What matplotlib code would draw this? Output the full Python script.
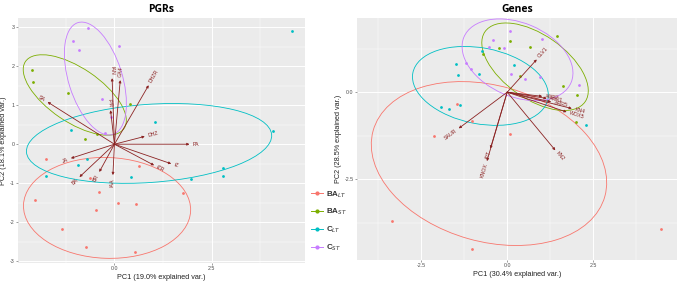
import numpy as np
import matplotlib
matplotlib.use("Agg")
import matplotlib.pyplot as plt
from matplotlib.patches import Ellipse
from matplotlib.lines import Line2D

plt.rcParams['font.family'] = ['Liberation Sans', 'DejaVu Sans']

# groups and colours (ggplot hue palette)
groups = ['BA$_{LT}$', 'BA$_{ST}$', 'C$_{LT}$', 'C$_{ST}$']
colors = ['#F8766D', '#7CAE00', '#00BFC4', '#C77CFF']
arrow_col = '#8B2323'

# ---- PGRs panel: scores per group ----
pgr_x = [
    [-1.76, -2.04, -1.36, -0.73, 0.53, -0.48, -0.40, -0.62, 0.10, 0.56, 0.63, 1.76],
    [-2.13, -2.10, -1.20, 0.41, -0.75, -0.46],
    [1.05, -1.13, -0.70, -0.93, -1.76, 0.43, 4.57, 4.07, 2.79, 2.78, 1.98],
    [-0.67, -1.06, -0.90, 0.13, -0.31, -0.08, -0.23],
]
pgr_y = [
    [-0.39, -1.42, -2.16, -2.63, -2.77, -1.68, -1.22, -0.87, -1.50, -1.54, -0.56, -1.24],
    [1.90, 1.58, 1.30, 1.02, 0.13, 0.25],
    [0.57, 0.36, -0.38, -0.54, -0.82, -0.85, 2.90, 0.33, -0.60, -0.81, -0.88],
    [2.97, 2.64, 2.41, 2.51, 1.15, 0.69, 0.28],
]
# ellipses (same group order): centre x, centre y, semi-major, semi-minor, angle (deg)
pgr_ell = [
    (-0.19, -1.63, 2.15, 1.29, -2),
    (-1.02, 1.26, 1.53, 0.69, -34),
    (0.89, 0.02, 3.16, 1.00, 4),
    (-0.49, 1.68, 1.50, 0.69, 107.5),
]
pgr_vars = ['SA', 'IAN', 'GA4', 'DHZR', 'iPR', 'DHZ', 'PA', 'tZ', 'tZR', 'JA', 'BA', 'BR', 'IAA']
pgr_vx = [-1.72, -0.06, 0.15, 0.88, -0.10, 0.78, 1.93, 1.46, 1.02, -1.12, -0.90, -0.39, -0.04]
pgr_vy = [1.08, 1.69, 1.64, 1.51, 0.87, 0.20, 0.00, -0.50, -0.54, -0.36, -0.84, -0.71, -0.79]

# ---- Genes panel ----
gene_x = [
    [-1.46, -2.12, -1.01, 0.09, -3.35, -1.01, 4.47],
    [0.07, -0.23, 0.67, 0.36, -0.71, 1.46, 1.61, 2.03, 2.00],
    [-1.92, -1.69, -1.37, -1.49, -1.44, -0.82, -0.72, 0.20, 2.30],
    [-0.42, -0.54, -0.08, 0.07, -1.19, -1.05, 0.12, 0.52, 0.94, 2.10, 1.01],
]
gene_y = [
    [-0.33, -1.26, -0.82, -1.21, -3.71, -4.51, -3.92],
    [1.47, 1.28, 1.30, 0.46, 1.11, 1.61, 0.18, -0.07, -0.85],
    [-0.42, -0.49, -0.37, 0.80, 0.49, 0.52, 1.19, 0.78, -0.95],
    [1.51, 1.30, 1.26, 1.75, 0.84, 0.66, 0.52, 0.37, 0.44, 0.22, 1.54],
]
gene_ell = [
    (-0.53, -2.05, 3.50, 2.24, -15.6),
    (0.81, 0.73, 1.77, 0.92, -34.5),
    (-0.78, 0.18, 2.00, 1.09, -10.7),
    (0.30, 0.93, 1.69, 1.06, -22.5),
]
gene_vars = ['SAUR', 'KNOX', 'IPT', 'CLV1', 'KN2', 'KN4', 'WOX5', 'ARR1', 'ARR2', 'ARR5']
gene_vx = [-1.41, -0.59, -0.49, 0.86, 1.40, 1.88, 1.73, 1.15, 1.02, 1.28]
gene_vy = [-1.04, -1.98, -1.62, 0.94, -1.67, -0.47, -0.57, -0.18, -0.12, -0.28]

W, H = 677, 282
fig = plt.figure(figsize=(W / 100, H / 100), dpi=100)


def panel(rect, xs, ys, ells, names, vx, vy, xlim, ylim, xt, yt, xlab, ylab, title):
    ax = fig.add_axes(rect)
    ax.set_facecolor('#EBEBEB')
    for s in ax.spines.values():
        s.set_visible(False)
    ax.set_xlim(*xlim)
    ax.set_ylim(*ylim)
    ax.set_xticks(xt)
    ax.set_yticks(yt)
    ax.set_xticklabels(['%.1f' % v for v in xt])
    ax.set_yticklabels(['%g' % v if title == 'PGRs' else '%.1f' % v for v in yt])
    step_x = xt[1] - xt[0] if len(xt) > 1 else 2.5
    step_y = yt[1] - yt[0] if len(yt) > 1 else 2.5
    mx = np.arange(xt[0] - 10 * step_x + step_x / 2, xlim[1], step_x)
    my = np.arange(yt[0] - 10 * step_y + step_y / 2, ylim[1], step_y)
    ax.set_xticks(mx[mx > xlim[0]], minor=True)
    ax.set_yticks(my[my > ylim[0]], minor=True)
    ax.grid(True, which='major', color='white', lw=0.7)
    ax.grid(True, which='minor', color='white', lw=0.35)
    ax.set_axisbelow(True)
    ax.tick_params(which='major', length=1.5, width=0.4, color='#555555',
                   labelsize=3.8, labelcolor='#4D4D4D', pad=1)
    ax.tick_params(which='minor', length=0)
    ax.set_xlabel(xlab, fontsize=5.2, color='#222222', labelpad=2)
    ax.set_ylabel(ylab, fontsize=5.2, color='#222222', labelpad=2)
    ax.set_title(title, fontsize=7.5, fontweight='bold', family='Open Sans', pad=4)

    for k in range(4):
        cx, cy, a, b, ang = ells[k]
        ax.add_patch(Ellipse((cx, cy), 2 * a, 2 * b, angle=ang, fill=False,
                             ec=colors[k], lw=0.6, zorder=2))
    for k in range(4):
        ax.scatter(xs[k], ys[k], s=4, color=colors[k], lw=0, zorder=3)

    for n, x, y in zip(names, vx, vy):
        ax.annotate('', xy=(x, y), xytext=(0, 0),
                    arrowprops=dict(arrowstyle='-|>', color=arrow_col, lw=0.6,
                                    mutation_scale=3.5, shrinkA=0, shrinkB=0),
                    zorder=4)
        ang = np.degrees(np.arctan(y / x)) if x != 0 else 90
        ha = 'left' if x > 0 else 'right'
        u = np.array([x, y]) / np.hypot(x, y)
        ax.text(x + u[0] * 0.08, y + u[1] * 0.08, n, fontsize=3.8, color=arrow_col,
                rotation=ang, rotation_mode='anchor', ha=ha, va='center', zorder=5)
    return ax


panel([18 / W, 1 - 263 / H, 287 / W, 245 / H], pgr_x, pgr_y, pgr_ell,
      pgr_vars, pgr_vx, pgr_vy, (-2.48, 4.9), (-3.04, 3.23),
      [0.0, 2.5], [-3, -2, -1, 0, 1, 2, 3],
      'PC1 (19.0% explained var.)', 'PC2 (18.1% explained var.)', 'PGRs')

panel([357 / W, 1 - 260 / H, 320 / W, 242 / H], gene_x, gene_y, gene_ell,
      gene_vars, gene_vx, gene_vy, (-4.37, 4.94), (-4.82, 2.13),
      [-2.5, 0.0, 2.5], [-2.5, 0.0],
      'PC1 (30.4% explained var.)', 'PC2 (28.5% explained var.)', 'Genes')

handles = [Line2D([0], [0], color=c, lw=0.7, marker='o', ms=2) for c in colors]
leg = fig.legend(handles, groups, loc='upper left', bbox_to_anchor=(308 / W, 1 - 186 / H),
                 frameon=False, fontsize=5.8, handlelength=1.4, handletextpad=0.4,
                 labelspacing=0.9, borderaxespad=0)
for t in leg.get_texts():
    t.set_fontweight('bold')
    t.set_color('#333333')

fig.savefig('out.png', dpi=100)
